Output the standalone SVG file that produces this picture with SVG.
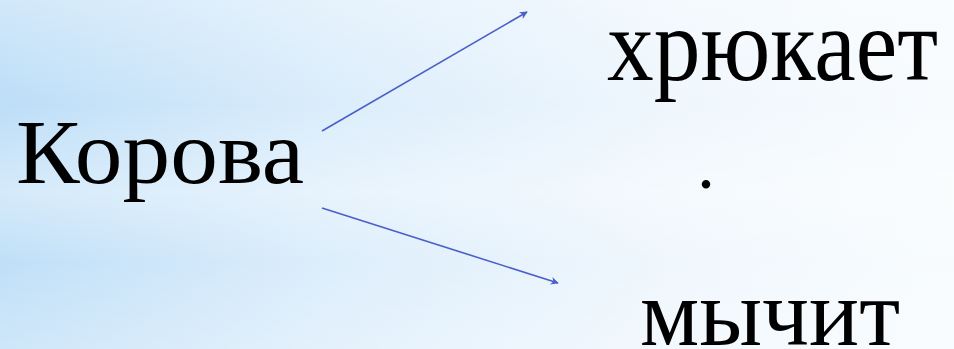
<svg xmlns="http://www.w3.org/2000/svg" width="954" height="349" viewBox="0 0 954 349">
<defs>
<linearGradient id="bg" x1="0" y1="0" x2="1" y2="0">
<stop offset="0" stop-color="#b9dcf7"/>
<stop offset="0.35" stop-color="#d9ecfb"/>
<stop offset="0.7" stop-color="#eef6fd"/>
<stop offset="1" stop-color="#f7fbfe"/>
</linearGradient>
<linearGradient id="streak" x1="0" y1="0" x2="0" y2="1">
<stop offset="0" stop-color="#ffffff" stop-opacity="0.35"/>
<stop offset="0.3" stop-color="#ffffff" stop-opacity="0.05"/>
<stop offset="0.55" stop-color="#ffffff" stop-opacity="0.4"/>
<stop offset="0.75" stop-color="#ffffff" stop-opacity="0.1"/>
<stop offset="1" stop-color="#ffffff" stop-opacity="0.3"/>
</linearGradient>
<marker id="ah" viewBox="0 0 10 10" refX="9" refY="5" markerWidth="8" markerHeight="8" markerUnits="userSpaceOnUse" orient="auto">
<path d="M0,0 L10,5 L0,10 L3,5 Z" fill="#4b5fc8"/>
</marker>
<style>
.t{font-family:"Liberation Serif","Times New Roman",serif;fill:#000}
.c{stroke:#4b5fc8;stroke-width:1.6;fill:none;marker-end:url(#ah)}
</style>
</defs>
<rect width="954" height="349" fill="url(#bg)"/>
<rect width="954" height="349" fill="url(#streak)"/>
<g id="cow"><text class="t" x="16" y="183" font-size="92" textLength="288" lengthAdjust="spacingAndGlyphs">Корова</text></g>
<g id="oink"><text class="t" x="607" y="80" font-size="104" textLength="331" lengthAdjust="spacingAndGlyphs">хрюкает</text></g>
<g id="dot"><text class="t" x="697" y="188" font-size="72">.</text></g>
<g id="moo"><text class="t" x="640" y="345" font-size="96" textLength="260" lengthAdjust="spacingAndGlyphs">мычит</text></g>
<g id="connectors">
<line class="c" x1="322" y1="131" x2="527" y2="12"/>
<line class="c" x1="322" y1="208" x2="558" y2="283"/>
</g>
</svg>
